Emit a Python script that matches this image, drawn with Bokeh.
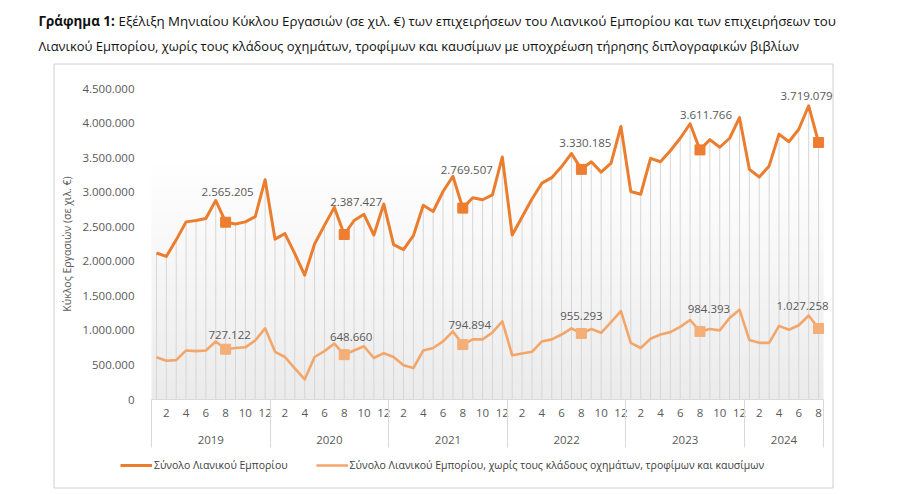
import numpy as np
from bokeh.plotting import figure
from bokeh.models import (Range1d, FixedTicker, LinearAxis, Label, Legend, LegendItem,
                          ColumnDataSource, LabelSet)
from bokeh.core.properties import value
from bokeh.embed import file_html
from bokeh.resources import INLINE

# ---------------- data ----------------
years = ["2019", "2020", "2021", "2022", "2023", "2024"]
months_per_year = [12, 12, 12, 12, 12, 8]
labelled_month = 8

total_retail = [
    2120000, 2070000, 2310000, 2570000, 2590000, 2620000, 2880000, 2565205, 2540000, 2570000, 2645000, 3180000,
    2320000, 2400000, 2110000, 1800000, 2250000, 2520000, 2780000, 2387427, 2590000, 2680000, 2380000, 2830000,
    2240000, 2170000, 2370000, 2810000, 2720000, 3010000, 3230000, 2769507, 2920000, 2890000, 2960000, 3510000,
    2380000, 2640000, 2900000, 3130000, 3210000, 3370000, 3560000, 3330185, 3440000, 3290000, 3420000, 3950000,
    3010000, 2970000, 3490000, 3440000, 3600000, 3780000, 3990000, 3611766, 3760000, 3650000, 3780000, 4080000,
    3330000, 3220000, 3380000, 3840000, 3730000, 3910000, 4250000, 3719079]

retail_excl = [
    610000, 560000, 570000, 710000, 700000, 710000, 840000, 727122, 745000, 755000, 855000, 1030000,
    690000, 615000, 450000, 290000, 615000, 700000, 810000, 648660, 710000, 770000, 600000, 670000,
    615000, 495000, 455000, 710000, 745000, 840000, 985000, 794894, 870000, 870000, 970000, 1130000,
    640000, 665000, 690000, 840000, 870000, 940000, 1030000, 955293, 1020000, 965000, 1120000, 1280000,
    820000, 745000, 880000, 940000, 975000, 1050000, 1150000, 984393, 1020000, 1000000, 1180000, 1300000,
    860000, 820000, 820000, 1065000, 1010000, 1075000, 1215000, 1027258]

y_ticks = [0, 500000, 1000000, 1500000, 2000000, 2500000, 3000000, 3500000, 4000000, 4500000]
y_max = 4500000

title_bold = "Γράφημα 1:"
title_line1 = "Εξέλιξη Μηνιαίου Κύκλου Εργασιών (σε χιλ. €) των επιχειρήσεων του Λιανικού Εμπορίου και των επιχειρήσεων του"
title_line2 = "Λιανικού Εμπορίου, χωρίς τους κλάδους οχημάτων, τροφίμων και καυσίμων με υποχρέωση τήρησης διπλογραφικών βιβλίων"
y_label = "Κύκλος Εργασιών (σε χιλ. €)"
legend_total = "Σύνολο Λιανικού Εμπορίου"
legend_excl = "Σύνολο Λιανικού Εμπορίου, χωρίς τους κλάδους οχημάτων, τροφίμων και καυσίμων"

# ---------------- derived ----------------
month_num = []
for n_m in months_per_year:
    month_num.extend(range(1, n_m + 1))
idx = list(range(len(total_retail)))
n = len(idx)

def fmt(v):
    return f"{v:,.0f}".replace(",", ".")

src = ColumnDataSource(dict(x=idx, total=total_retail, excl=retail_excl, zero=[0] * n))
sel = [i for i in idx if month_num[i] == labelled_month]

# style-only pixel offsets for the data labels
dark_dx = [2, 12, 4, 4, 6, -12]
dark_dy = [30, 33, 38, 26, 35, 46]
light_dx = [4, 7, 7, 0, 9, -16]
light_dy = [14, 18, 20, 17, 22, 23]

msrc_t = ColumnDataSource(dict(x=sel, y=[total_retail[i] for i in sel],
                               txt=[fmt(total_retail[i]) for i in sel], dx=dark_dx, dy=dark_dy))
msrc_e = ColumnDataSource(dict(x=sel, y=[retail_excl[i] for i in sel],
                               txt=[fmt(retail_excl[i]) for i in sel], dx=light_dx, dy=light_dy))

# ---------------- layout (pixels) ----------------
W, H = 900, 494
PL, PR, PT, PB = 151, 823, 88, 399      # plot area in canvas pixels
ppx = (PR - PL) / n
ppy = (PB - PT) / y_max
x0 = -0.5 - PL / ppx
x1 = (n - 0.5) + (W - PR) / ppx
y0 = -(H - PB) / ppy
y1 = y_max + PT / ppy

def px_to_x(px):
    return x0 + px / ppx

def py_to_y(py):
    return y1 - py / ppy

p = figure(width=W, height=H, output_backend="svg", toolbar_location=None,
           x_range=Range1d(x0, x1), y_range=Range1d(y0, y1),
           min_border=0, x_axis_type=None, y_axis_type=None)
p.outline_line_color = None
p.xgrid.visible = False
p.ygrid.visible = False
p.background_fill_color = "white"
p.border_fill_color = "white"

# chart-area frame (decoration)
p.quad(left=px_to_x(53.5), right=px_to_x(832.5), top=py_to_y(63.5), bottom=py_to_y(487.5),
       fill_color=None, line_color="#d0d0d0", line_width=1)

# plot-area gradient (decoration)
N = 80
grad = np.zeros((N, 1), dtype=np.uint32)
view = grad.view(dtype=np.uint8).reshape((N, 1, 4))
for r in range(N):
    t = r / (N - 1)  # 0 bottom, 1 top
    c = int(round(235 + (255 - 235) * min(1.0, t * 1.3)))
    view[r, 0, :3] = c
    view[r, 0, 3] = 255
p.image_rgba(image=[grad], x=-0.5, y=0, dw=n, dh=y_max)

# drop lines
p.segment(x0="x", y0="zero", x1="x", y1="total", source=src, line_color="#d6d6d6", line_width=1)

# lines
l_excl = p.line("x", "excl", source=src, line_color="#F3A66A", line_width=2.6, line_join="round")
l_tot = p.line("x", "total", source=src, line_color="#EB7D2E", line_width=3, line_join="round")

p.scatter("x", "y", source=msrc_e, marker="square", size=10, fill_color="#F4AE78", line_color="#F4AE78")
p.scatter("x", "y", source=msrc_t, marker="square", size=10, fill_color="#ED7D31", line_color="#ED7D31")

FONT = "Open Sans"
for s in (msrc_t, msrc_e):
    p.add_layout(LabelSet(x="x", y="y", text="txt", source=s, x_offset="dx", y_offset="dy",
                          text_align="center", text_baseline="middle", text_font=value(FONT),
                          text_font_size="11.5px", text_color="#595959"))

# y axis
yax = LinearAxis(ticker=FixedTicker(ticks=y_ticks), fixed_location=-0.5, bounds=(0, y_max),
                 major_label_overrides={t: fmt(t) for t in y_ticks},
                 axis_line_color=None, major_tick_line_color=None, minor_tick_line_color=None,
                 major_label_standoff=11, major_label_text_font=FONT,
                 major_label_text_font_size="11.5px", major_label_text_color="#595959",
                 axis_label=y_label, axis_label_text_font=FONT, axis_label_text_font_style="normal",
                 axis_label_text_font_size="10.5px", axis_label_text_color="#595959",
                 axis_label_standoff=5)
p.add_layout(yax, "left")

# month axis
even = [i for i in idx if month_num[i] % 2 == 0]
xax = LinearAxis(ticker=FixedTicker(ticks=even, minor_ticks=[]), fixed_location=0,
                 bounds=(-0.5, n - 0.5),
                 major_label_overrides={i: str(month_num[i]) for i in even},
                 axis_line_color="#d9d9d9", major_tick_line_color=None, major_tick_out=0, major_tick_in=0,
                 minor_tick_line_color=None,
                 major_label_standoff=9, major_label_text_font=FONT,
                 major_label_text_font_size="11.5px", major_label_text_color="#595959")
p.add_layout(xax, "below")

# year separators
bounds = [-0.5]
acc = -0.5
for m in months_per_year:
    acc += m
    bounds.append(acc)
sepax = LinearAxis(ticker=FixedTicker(ticks=bounds, minor_ticks=[]), fixed_location=0,
                   bounds=(-0.5, n - 0.5),
                   major_label_overrides={b: "" for b in bounds},
                   axis_line_color=None, major_tick_line_color="#d9d9d9", major_tick_out=48, major_tick_in=0,
                   minor_tick_line_color=None, major_label_text_font_size="1px")
p.add_layout(sepax, "below")

# year axis
centers = []
start = 0
for m in months_per_year:
    centers.append(start + (m - 1) / 2)
    start += m
yrax = LinearAxis(ticker=FixedTicker(ticks=centers, minor_ticks=[]), fixed_location=0,
                  bounds=(-0.5, n - 0.5),
                  major_label_overrides={c: y for c, y in zip(centers, years)},
                  axis_line_color=None, major_tick_line_color=None, minor_tick_line_color=None,
                  major_tick_out=0, major_tick_in=0,
                  major_label_standoff=36, major_label_text_font=FONT,
                  major_label_text_font_size="11.5px", major_label_text_color="#595959")
p.add_layout(yrax, "below")

# legend
legend = Legend(items=[LegendItem(label=legend_total, renderers=[l_tot]),
                       LegendItem(label=legend_excl, renderers=[l_excl])],
                orientation="horizontal", location=(120, H - 472),
                border_line_color=None, background_fill_alpha=0, glyph_width=32, glyph_height=14,
                label_standoff=2, spacing=28, padding=0, margin=0,
                label_text_font=FONT, label_text_font_size="10.5px", label_text_color="#404040")
p.add_layout(legend)

# title
p.add_layout(Label(x=38, y=H - 20, x_units="screen", y_units="screen", text=title_bold,
                   text_font=FONT, text_font_style="bold", text_font_size="13.4px", text_color="#111111",
                   text_baseline="middle"))
p.add_layout(Label(x=38 + 80, y=H - 20, x_units="screen", y_units="screen", text=title_line1,
                   text_font=FONT, text_font_size="13.3px", text_color="#111111", text_baseline="middle"))
p.add_layout(Label(x=38, y=H - 45, x_units="screen", y_units="screen", text=title_line2,
                   text_font=FONT, text_font_size="12.95px", text_color="#111111", text_baseline="middle"))

open("out.html", "w").write(file_html(p, INLINE))
